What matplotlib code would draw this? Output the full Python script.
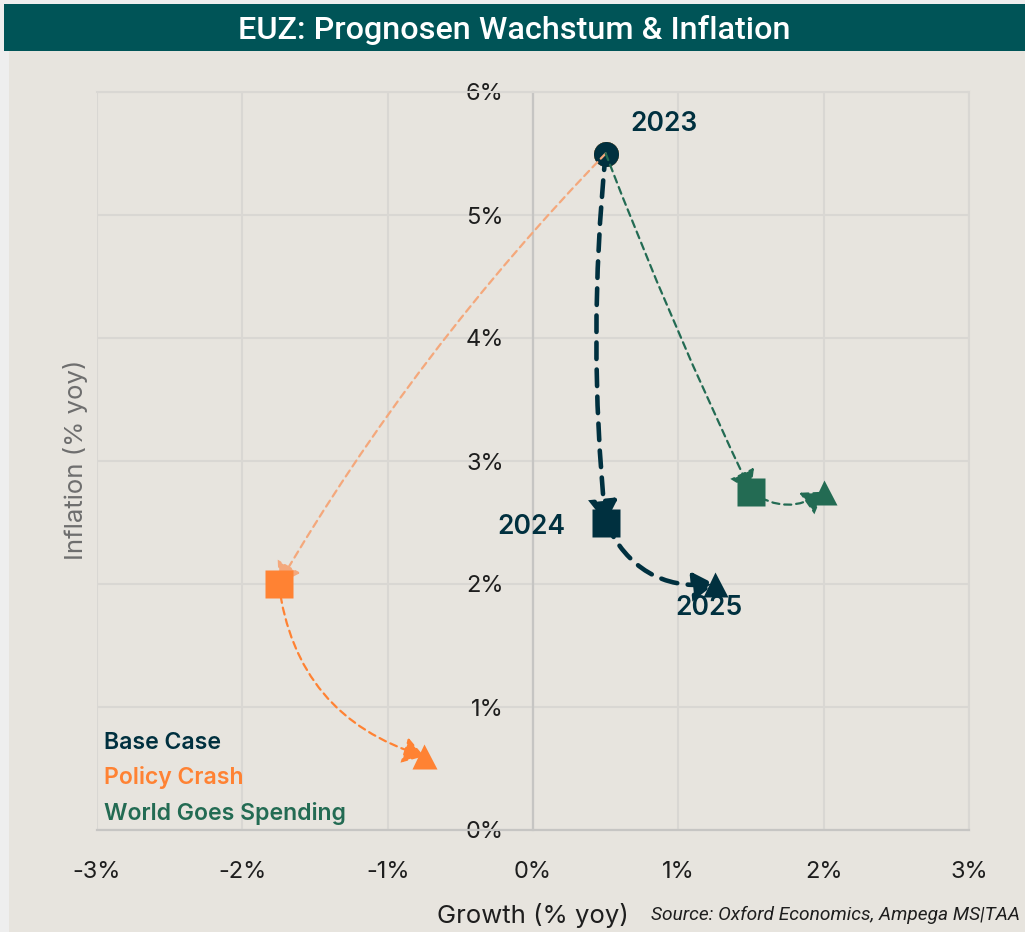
import matplotlib
matplotlib.use("Agg")
import matplotlib.pyplot as plt
from matplotlib.patches import FancyArrowPatch, Rectangle
from matplotlib.ticker import FuncFormatter

# ---------------- data ----------------
years = ["2023", "2024", "2025"]
scenarios = ["Base Case", "Policy Crash", "World Goes Spending"]
growth = {
    "Base Case": [0.5, 0.5, 1.25],
    "Policy Crash": [0.5, -1.75, -0.75],
    "World Goes Spending": [0.5, 1.5, 2.0],
}
inflation = {
    "Base Case": [5.5, 2.5, 2.0],
    "Policy Crash": [5.5, 2.0, 0.6],
    "World Goes Spending": [5.5, 2.75, 2.75],
}
x_ticks = [-3, -2, -1, 0, 1, 2, 3]
y_ticks = [0, 1, 2, 3, 4, 5, 6]

title = "EUZ: Prognosen Wachstum & Inflation"
xlabel = "Growth (% yoy)"
ylabel = "Inflation (% yoy)"
source = "Source: Oxford Economics, Ampega MS|TAA"

# ---------------- styles ----------------
NAVY = "#00303f"
ORANGE = "#ff8233"
ORANGE_LIGHT = "#f4a87c"
GREEN = "#236b53"
BEIGE = "#e7e4de"
TEAL = "#005457"
GRID = "#d9d7d3"
ZERO = "#c6c5c3"

colors = {"Base Case": NAVY, "Policy Crash": ORANGE, "World Goes Spending": GREEN}
first_arrow_colors = {"Base Case": NAVY, "Policy Crash": ORANGE_LIGHT, "World Goes Spending": GREEN}
line_w = {"Base Case": 3.3, "Policy Crash": 1.6, "World Goes Spending": 1.6}
dashes = {"Base Case": (3.6, 2.3), "Policy Crash": (3.2, 2.2), "World Goes Spending": (3.2, 2.2)}
rads = {"Base Case": [0.05, 0.35], "Policy Crash": [0.06, 0.32], "World Goes Spending": [0.02, 0.35]}

FONT = ["Inter", "DejaVu Sans"]
plt.rcParams["font.family"] = FONT

W, H = 1025, 932
fig = plt.figure(figsize=(W / 100, H / 100), dpi=100, facecolor="#eeeeee")

# background panel and title bar
fig.patches.append(Rectangle((9 / W, 0), 1, 1 - 51 / H, transform=fig.transFigure,
                             facecolor=BEIGE, edgecolor="none", zorder=-10))
fig.patches.append(Rectangle((4 / W, 1 - 51 / H), 1, 47 / H, transform=fig.transFigure,
                             facecolor=TEAL, edgecolor="none", zorder=-9))
fig.text(0.5 * (4 + W) / W, 1 - 30 / H, title, color="white", fontsize=23.3,
         fontweight="medium", ha="center", va="center", family=["Roboto", "DejaVu Sans"])

ax = fig.add_axes([97 / W, 1 - 830 / H, 872 / W, 738 / H])
ax.set_facecolor("none")
ax.set_xlim(x_ticks[0], x_ticks[-1])
ax.set_ylim(y_ticks[0], y_ticks[-1])
ax.set_xticks(x_ticks)
ax.set_yticks(y_ticks)
ax.xaxis.set_major_formatter(FuncFormatter(lambda v, p: f"{v:.0f}%"))
ax.yaxis.set_major_formatter(FuncFormatter(lambda v, p: f"{v:.0f}%"))
ax.grid(True, color=GRID, lw=1.5, zorder=0)
ax.set_axisbelow(True)

ax.spines["left"].set_position(("data", 0))
ax.spines["left"].set_color(ZERO)
ax.spines["left"].set_linewidth(1.6)
ax.spines["bottom"].set_color(ZERO)
ax.spines["bottom"].set_linewidth(1.6)
for s in ["top", "right"]:
    ax.spines[s].set_color(GRID)
    ax.spines[s].set_linewidth(1.5)

ax.tick_params(axis="both", length=0, labelsize=17, labelcolor="#1e1e1e")
ax.tick_params(axis="y", pad=21)
ax.tick_params(axis="x", pad=22)

fig.text(75 / W, 1 - 460 / H, ylabel, rotation=90, ha="center", va="center",
         fontsize=18.5, color="#6e6e6e")
fig.text(533 / W, 1 - 915 / H, xlabel, ha="center", va="center", fontsize=18.5, color="#1e1e1e")
fig.text(1020 / W, 1 - 915 / H, source, ha="right", va="center", fontsize=13.8,
         style="italic", color="#1e1e1e", family=["Roboto", "DejaVu Sans"])

markers = ["o", "s", "^"]
msizes = [18, 19.5, 18]

# arrows
for sc in scenarios:
    xs, ys = growth[sc], inflation[sc]
    for i in range(len(xs) - 1):
        c = first_arrow_colors[sc] if i == 0 else colors[sc]
        arr = FancyArrowPatch((xs[i], ys[i]), (xs[i + 1], ys[i + 1]),
                              connectionstyle=f"arc3,rad={rads[sc][i]}",
                              arrowstyle="-|>,head_length=12.5,head_width=8",
                              mutation_scale=1, color=c, lw=line_w[sc],
                              linestyle=(0, dashes[sc]), shrinkA=0, shrinkB=0,
                              capstyle="round", joinstyle="miter", zorder=4)
        ax.add_patch(arr)

# markers (reverse order so the Base Case 2023 point sits on top)
for sc in reversed(scenarios):
    xs, ys = growth[sc], inflation[sc]
    for i in range(len(xs)):
        z = 3 if i == 0 else 6
        ax.plot(xs[i], ys[i], marker=markers[i], ms=msizes[i], color=colors[sc],
                mec="none", ls="none", zorder=z)

# year labels (Base Case)
offsets = [((18, 21), "left"), ((-29, -3), "right"), ((-4, -17), "center")]
for i, yr in enumerate(years):
    (dx, dy), ha = offsets[i]
    ax.annotate(yr, (growth["Base Case"][i], inflation["Base Case"][i]),
                xytext=(dx, dy), textcoords="offset points", ha=ha, va="center",
                fontsize=19, fontweight="semibold", color=NAVY, zorder=7)

# legend as coloured text
leg_y = [0.118, 0.071, 0.023]
for sc, yy in zip(scenarios, leg_y):
    ax.text(0.008, yy, sc, transform=ax.transAxes, color=colors[sc], fontsize=16.6,
            fontweight="semibold", ha="left", va="center")

fig.savefig("out.png", dpi=100, facecolor=fig.get_facecolor())
